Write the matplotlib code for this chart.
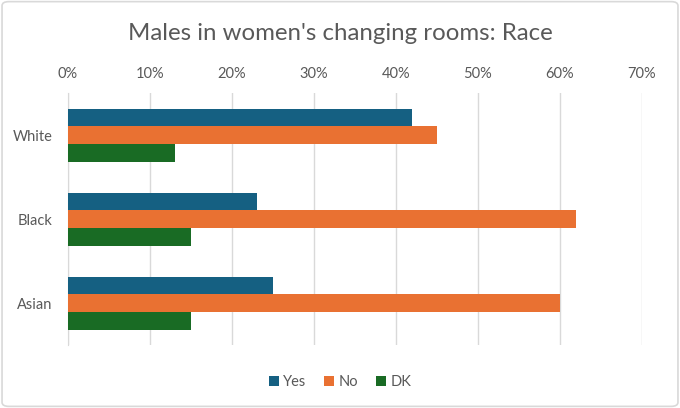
import numpy as np
import matplotlib
matplotlib.use('Agg')
import matplotlib.pyplot as plt
from matplotlib.patches import FancyBboxPatch
from matplotlib.ticker import PercentFormatter

# データ
races = ['White', 'Black', 'Asian']
yes_vals = [42, 23, 25]
no_vals = [45, 62, 60]
dk_vals = [13, 15, 15]
series_names = ['Yes', 'No', 'DK']
x_ticks = [0, 10, 20, 30, 40, 50, 60, 70]

# 色
colors = ['#156082', '#E97132', '#196B24']
text_color = '#595959'

plt.rcParams['font.family'] = ['Lato', 'DejaVu Sans']

fig = plt.figure(figsize=(6.8, 4.08), dpi=100)
ax = fig.add_axes([0.1, 0.154, 0.844, 0.618])

# 外枠（角丸）
frame = FancyBboxPatch((0.003, 0.004), 0.994, 0.992, boxstyle='round,pad=0,rounding_size=0.01',
                       transform=fig.transFigure, facecolor='white', edgecolor='#d9d9d9',
                       linewidth=1.2, zorder=-10)
fig.patches.append(frame)

y = np.arange(len(races))
h = 0.21
for i, vals in enumerate([yes_vals, no_vals, dk_vals]):
    ax.barh(y + (i - 1) * h, vals, height=h, color=colors[i], label=series_names[i], zorder=3)

ax.set_xlim(0, 70)
ax.set_ylim(len(races) - 0.5, -0.5)  # 上からWhite
ax.set_xticks(x_ticks)
ax.xaxis.set_major_formatter(PercentFormatter(decimals=0))
ax.xaxis.tick_top()
ax.set_yticks(y)
ax.set_yticklabels(races)
ax.tick_params(axis='both', length=0, labelsize=10.5, colors=text_color)
ax.tick_params(axis='y', pad=11)
ax.tick_params(axis='x', pad=9)

ax.grid(axis='x', color='#d9d9d9', linewidth=1, zorder=0)
for s in ['top', 'right', 'bottom']:
    ax.spines[s].set_visible(False)
ax.spines['left'].set_color('#d9d9d9')
ax.set_facecolor('none')

fig.text(0.5, 0.918, "Males in women's changing rooms: Race", ha='center', va='center',
         fontsize=17.3, color=text_color)

fig.legend(loc='center', bbox_to_anchor=(0.5, 0.064), ncol=3, frameon=False,
           fontsize=10.5, labelcolor=text_color, handlelength=0.7, handleheight=0.7,
           handletextpad=0.3, columnspacing=1.2)

fig.savefig('out.png', dpi=100)
